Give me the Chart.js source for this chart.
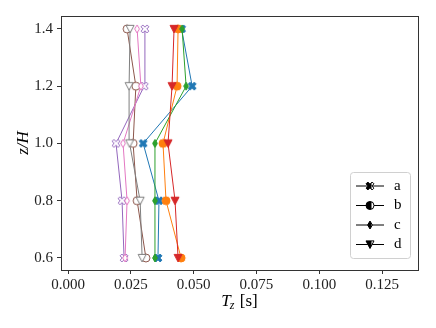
<!DOCTYPE html>
<html>
<head>
<meta charset="utf-8">
<script src="https://cdn.jsdelivr.net/npm/chart.js@4.4.1/dist/chart.umd.min.js"></script>
<style>
  html, body { margin: 0; padding: 0; background: #fff; }
  #wrap { width: 436px; height: 328px; }
</style>
</head>
<body>
<div id="wrap"><canvas id="tzChart" width="436" height="328"></canvas></div>
<script>
// heights (z/H) shared by every profile
const heights = [0.6, 0.8, 1.0, 1.2, 1.4];

// T_z [s] at each height
const blueX = [0.0358, 0.0362, 0.0299, 0.0494, 0.0452];
const orangeO = [0.0450, 0.0390, 0.0378, 0.0434, 0.0438];
const greenD = [0.0346, 0.0346, 0.0346, 0.0470, 0.0454];
const redV = [0.0438, 0.0426, 0.0398, 0.0414, 0.0422];
const purpleX = [0.0223, 0.0215, 0.0191, 0.0303, 0.0306];
const brownO = [0.0310, 0.0275, 0.0259, 0.0270, 0.0235];
const pinkD = [0.0227, 0.0235, 0.0219, 0.0290, 0.0275];
const grayV = [0.0295, 0.0287, 0.0245, 0.0243, 0.0247];

const legendLabels = ["a", "b", "c", "d"];
const xTicks = [0, 0.025, 0.05, 0.075, 0.1, 0.125];
const yTicks = [0.6, 0.8, 1.0, 1.2, 1.4];

const SERIF = "'Liberation Serif', 'DejaVu Serif', serif";

// marker outlines, unit size (half extent 0.5)
function markerPath(ctx, shape, s) {
    ctx.beginPath();
    if (shape === "o") {
        ctx.arc(0, 0, s * 0.5, 0, Math.PI * 2);
    } else if (shape === "d") {
        ctx.moveTo(0, -s * 0.5);
        ctx.lineTo(s * 0.3, 0);
        ctx.lineTo(0, s * 0.5);
        ctx.lineTo(-s * 0.3, 0);
        ctx.closePath();
    } else if (shape === "v") {
        ctx.moveTo(-s * 0.5, -s * 0.45);
        ctx.lineTo(s * 0.5, -s * 0.45);
        ctx.lineTo(0, s * 0.5);
        ctx.closePath();
    } else if (shape === "X") {
        const t = 0.16, h = 0.54;
        const pts = [[-t, h], [t, h], [t, t], [h, t], [h, -t], [t, -t], [t, -h], [-t, -h], [-t, -t], [-h, -t], [-h, t], [-t, t]];
        const c = Math.SQRT1_2;
        pts.forEach((p, i) => {
            const x = (p[0] * c - p[1] * c) * s;
            const y = (p[0] * c + p[1] * c) * s;
            if (i === 0) ctx.moveTo(x, y); else ctx.lineTo(x, y);
        });
        ctx.closePath();
    }
}

function makeMarker(shape, color, filled, size) {
    const c = document.createElement("canvas");
    const dim = size + 4;
    c.width = dim;
    c.height = dim;
    const ctx = c.getContext("2d");
    ctx.translate(dim / 2, dim / 2);
    markerPath(ctx, shape, size);
    ctx.fillStyle = filled ? color : "#fff";
    ctx.fill();
    ctx.lineWidth = 1;
    ctx.strokeStyle = color;
    ctx.stroke();
    return c;
}

const MS = 8;
const series = [
    { vals: blueX, color: "#1f77b4", shape: "X", filled: true },
    { vals: orangeO, color: "#ff7f0e", shape: "o", filled: true },
    { vals: greenD, color: "#2ca02c", shape: "d", filled: true },
    { vals: redV, color: "#d62728", shape: "v", filled: true },
    { vals: purpleX, color: "#9467bd", shape: "X", filled: false },
    { vals: brownO, color: "#8c564b", shape: "o", filled: false },
    { vals: pinkD, color: "#e377c2", shape: "d", filled: false },
    { vals: grayV, color: "#7f7f7f", shape: "v", filled: false },
];

const datasets = series.map((s, i) => ({
    data: s.vals.map((v, k) => ({ x: v, y: heights[k] })),
    showLine: true,
    borderColor: s.color,
    backgroundColor: s.color,
    borderWidth: 1,
    pointStyle: makeMarker(s.shape, s.color, s.filled, MS),
    order: series.length - i,
}));

// frame, axis titles and legend in matplotlib style
const extras = {
    id: "extras",
    afterDraw(chart) {
        const ctx = chart.ctx;
        const a = chart.chartArea;
        ctx.save();
        ctx.strokeStyle = "#333";
        ctx.lineWidth = 1;
        ctx.strokeRect(Math.round(a.left) + 0.5, Math.round(a.top) + 0.5,
            Math.round(a.right - a.left), Math.round(a.bottom - a.top));

        // x title: T_z [s]
        ctx.fillStyle = "#000";
        ctx.textBaseline = "alphabetic";
        const cx = (a.left + a.right) / 2;
        const by = 306;
        ctx.font = "italic 17px " + SERIF;
        const wT = ctx.measureText("T").width;
        ctx.font = "italic 12px " + SERIF;
        const wz = ctx.measureText("z").width;
        ctx.font = "17px " + SERIF;
        const ws = ctx.measureText(" [s]").width;
        let x0 = cx - (wT + wz + ws) / 2;
        ctx.font = "italic 17px " + SERIF;
        ctx.fillText("T", x0, by);
        ctx.font = "italic 12px " + SERIF;
        ctx.fillText("z", x0 + wT - 1, by + 3);
        ctx.font = "17px " + SERIF;
        ctx.fillText(" [s]", x0 + wT + wz, by);

        // y title: z/H
        ctx.save();
        ctx.translate(28, (a.top + a.bottom) / 2);
        ctx.rotate(-Math.PI / 2);
        ctx.textAlign = "center";
        ctx.font = "italic 17px " + SERIF;
        ctx.fillText("z/H", 0, 0);
        ctx.restore();

        // legend box
        const lx = 350, ly = 172, lw = 60, lh = 86;
        ctx.beginPath();
        ctx.roundRect(lx + 0.5, ly + 0.5, lw, lh, 3);
        ctx.fillStyle = "rgba(255,255,255,0.8)";
        ctx.fill();
        ctx.strokeStyle = "#d0d0d0";
        ctx.stroke();
        const shapes = ["X", "o", "d", "v"];
        legendLabels.forEach((lab, i) => {
            const ry = 186 + i * 19.5;
            ctx.beginPath();
            ctx.moveTo(356, ry);
            ctx.lineTo(384, ry);
            ctx.strokeStyle = "#000";
            ctx.lineWidth = 1;
            ctx.stroke();
            ctx.save();
            ctx.translate(370, ry);
            markerPath(ctx, shapes[i], MS);
            ctx.fillStyle = "#fff";
            ctx.fill();
            ctx.clip();
            ctx.fillStyle = "#000";
            ctx.fillRect(-MS, -MS, MS + 1.5, 2 * MS);
            ctx.restore();
            ctx.save();
            ctx.translate(370, ry);
            markerPath(ctx, shapes[i], MS);
            ctx.strokeStyle = "#000";
            ctx.stroke();
            ctx.restore();
            ctx.fillStyle = "#000";
            ctx.font = "15px " + SERIF;
            ctx.textBaseline = "middle";
            ctx.fillText(lab, 394, ry);
        });
        ctx.restore();
    },
};

new Chart(document.getElementById("tzChart").getContext("2d"), {
    type: "scatter",
    data: { datasets: datasets },
    options: {
        responsive: false,
        animation: false,
        layout: { padding: { top: 16, right: 18, left: 0, bottom: 0 } },
        plugins: { legend: { display: false }, tooltip: { enabled: false } },
        scales: {
            x: {
                type: "linear",
                min: -0.0028,
                max: 0.1393,
                afterBuildTicks: (axis) => { axis.ticks = xTicks.map((v) => ({ value: v })); },
                afterFit: (axis) => { axis.height = 58; },
                border: { display: false },
                grid: { drawOnChartArea: false, tickLength: 4, tickColor: "#333" },
                ticks: {
                    color: "#222",
                    font: { family: SERIF, size: 15 },
                    padding: 2,
                    maxRotation: 0,
                    callback: (v) => Number(v).toFixed(3),
                },
            },
            y: {
                type: "linear",
                min: 0.558,
                max: 1.445,
                afterBuildTicks: (axis) => { axis.ticks = yTicks.map((v) => ({ value: v })); },
                afterFit: (axis) => { axis.width = 61; },
                border: { display: false },
                grid: { drawOnChartArea: false, tickLength: 4, tickColor: "#333" },
                ticks: {
                    color: "#222",
                    font: { family: SERIF, size: 15 },
                    padding: 4,
                    callback: (v) => Number(v).toFixed(1),
                },
            },
        },
    },
    plugins: [extras],
});
</script>
</body>
</html>
